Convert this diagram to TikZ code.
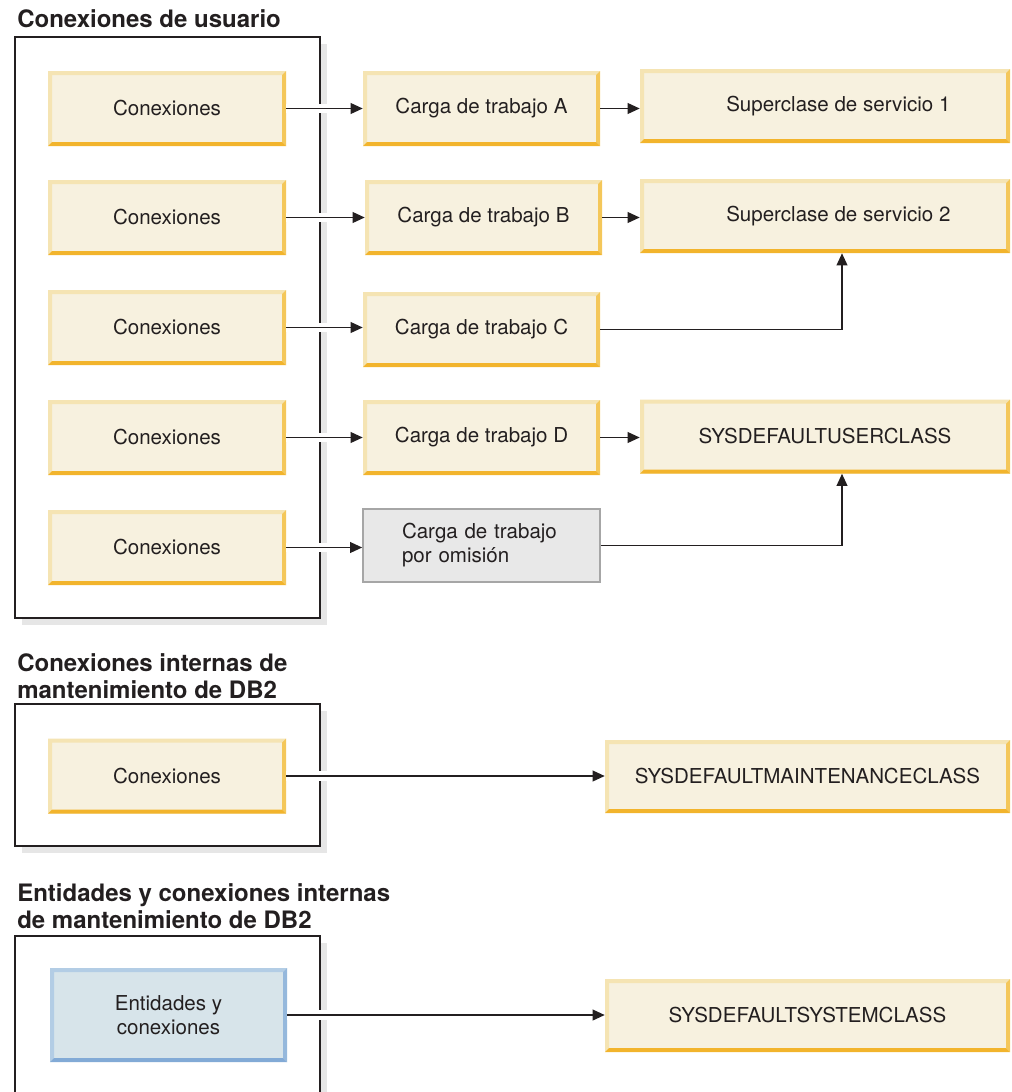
\documentclass[tikz,border=0pt]{standalone}
\usepackage{fontspec}
\setmainfont{TeX Gyre Heros}
\usetikzlibrary{arrows.meta}

\definecolor{ink}{HTML}{231F20}
\definecolor{cream}{HTML}{F7F1DF}
\definecolor{creamLight}{HTML}{F5E4B3}
\definecolor{creamRight}{HTML}{F4C75A}
\definecolor{creamDark}{HTML}{F2B42C}
\definecolor{blueFill}{HTML}{D7E4EA}
\definecolor{blueLight}{HTML}{B3CDE5}
\definecolor{blueRight}{HTML}{95B8DC}
\definecolor{blueDark}{HTML}{82AAD6}
\definecolor{greyFill}{HTML}{E8E8E8}
\definecolor{greyLine}{HTML}{A6A6A6}
\definecolor{shadow}{HTML}{E6E6E6}

\newcommand{\bodyfont}{\fontsize{15.4}{18}\selectfont}
\newcommand{\titlefont}{\bfseries\fontsize{18}{20.25}\selectfont}

\tikzset{
  bevel/.style n args={4}{fill=#1, path picture={
      \path (path picture bounding box.south west) coordinate (bbsw)
            (path picture bounding box.north east) coordinate (bbne)
            (path picture bounding box.south east) coordinate (bbse)
            (path picture bounding box.north west) coordinate (bbnw);
      \fill[#2] (bbsw) -- (bbnw) -- (bbne) -- ++(-3pt,-3pt) -| ([shift={(3pt,3pt)}]bbsw) -- cycle;
      \fill[#3] (bbne) -- (bbse) -- ([shift={(-3pt,3pt)}]bbse) -- ([shift={(-3pt,-3pt)}]bbne) -- cycle;
      \fill[#4] (bbsw) -- (bbse) -- ([shift={(-3pt,3pt)}]bbse) -- ([shift={(3pt,3pt)}]bbsw) -- cycle;
    }},
  cell/.style={bevel={cream}{creamLight}{creamRight}{creamDark}, minimum width=178.5pt,
    minimum height=56.25pt, inner sep=0pt, font=\bodyfont, text=ink},
  bluecell/.style={bevel={blueFill}{blueLight}{blueRight}{blueDark}, minimum width=177.75pt,
    minimum height=70.5pt, inner sep=0pt, font=\bodyfont, text=ink, align=center},
  greycell/.style={fill=greyFill, draw=greyLine, line width=1.2pt, minimum width=177.75pt,
    minimum height=54.75pt, inner xsep=29.25pt, text width=119.25pt, align=left,
    font=\bodyfont, text=ink},
  title/.style={anchor=west, inner sep=0pt, font=\titlefont, text=ink, align=left},
  frame/.style={draw=ink, line width=1.2pt},
  flow/.style={draw=ink, line width=1.2pt, -{Triangle[length=9pt,width=8pt]}},
  cross/.style={flow, preaction={draw=white, line width=7pt, -}},
}

\begin{document}
\begin{tikzpicture}[x=0.75pt, y=-0.75pt]
  \clip (0,0) rectangle (1011,1092);

  %Titles
  \node[title] (t1) at (17,19) {Conexiones de usuario};
  \node[title] (t2) at (17,676) {Conexiones internas de\\mantenimiento de DB2};
  \node[title] (t3) at (17,906) {Entidades y conexiones internas\\de mantenimiento de DB2};

  %Containers with shadow
  \fill[shadow] (22,44) rectangle (327,625);
  \fill[white] (15,37) rectangle (320,618);
  \draw[frame] (15,37) rectangle (320,618);

  \fill[shadow] (22,711) rectangle (327,853);
  \fill[white] (15,704) rectangle (320,846);
  \draw[frame] (15,704) rectangle (320,846);

  \fill[shadow] (22,943) rectangle (327,1110);
  \fill[white] (15,936) rectangle (320,1104);
  \draw[frame] (15,936) rectangle (320,1104);

  %User connections
  \node[cell] (conn1) at (167,108.5) {Conexiones};
  \node[cell] (conn2) at (167,217.5) {Conexiones};
  \node[cell] (conn3) at (167,327.5) {Conexiones};
  \node[cell] (conn4) at (167,437.5) {Conexiones};
  \node[cell] (conn5) at (167,547.5) {Conexiones};

  %Workloads
  \node[cell, minimum width=177.75pt] (wlA) at (481.5,108.5) {Carga de trabajo A};
  \node[cell, minimum width=177.75pt] (wlB) at (483.5,217.5) {Carga de trabajo B};
  \node[cell, minimum width=177.75pt] (wlC) at (481.5,329.5) {Carga de trabajo C};
  \node[cell, minimum width=177.75pt] (wlD) at (481.5,437.5) {Carga de trabajo D};
  \node[greycell] (wlDef) at (481.5,545.5) {Carga de trabajo\\por omisión};

  %Service superclasses
  \node[cell, minimum width=277.5pt, minimum height=55.5pt] (sc1) at (825,106) {\hspace{20pt}Superclase de servicio 1};
  \node[cell, minimum width=277.5pt, minimum height=55.5pt] (sc2) at (825,216) {\hspace{20pt}Superclase de servicio 2};
  \node[cell, minimum width=277.5pt, minimum height=55.5pt] (sysUser) at (825,436.5) {SYSDEFAULTUSERCLASS};

  %Maintenance
  \node[cell] (connMaint) at (167,776) {Conexiones};
  \node[cell, minimum width=303.75pt, minimum height=54.75pt] (sysMaint) at (807.5,776.5) {SYSDEFAULTMAINTENANCECLASS};

  %Entities
  \node[bluecell] (entSys) at (168.5,1015) {Entidades y\\conexiones};
  \node[cell, minimum width=303.75pt, minimum height=54.75pt] (sysSystem) at (807.5,1015.5) {SYSDEFAULTSYSTEMCLASS};

  %Arrows
  \draw[cross] (conn1.east) -- (wlA.west |- conn1.east);
  \draw[cross] (conn2.east) -- (wlB.west |- conn2.east);
  \draw[cross] (conn3.east) -- (wlC.west |- conn3.east);
  \draw[cross] (conn4.east) -- (wlD.west |- conn4.east);
  \draw[cross] (conn5.east) -- (wlDef.west |- conn5.east);

  \draw[flow] (wlA.east) -- (sc1.west |- wlA.east);
  \draw[flow] (wlB.east) -- (sc2.west |- wlB.east);
  \draw[flow] (wlC.east) -| ([xshift=12.75pt]sc2.south);
  \draw[flow] (wlD.east) -- (sysUser.west |- wlD.east);
  \draw[flow] (wlDef.east) -| ([xshift=12.75pt]sysUser.south);

  \draw[cross] (connMaint.east) -- (sysMaint.west |- connMaint.east);
  \draw[cross] (entSys.east) -- (sysSystem.west |- entSys.east);
\end{tikzpicture}
\end{document}
